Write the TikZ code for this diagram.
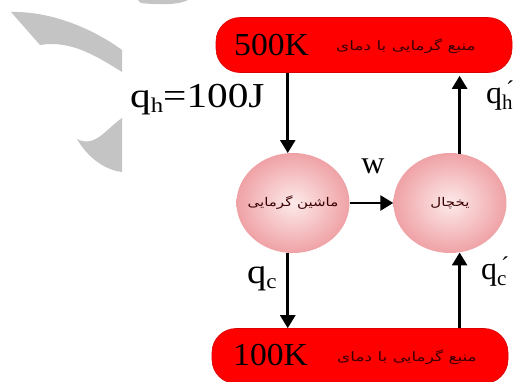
\documentclass[tikz,border=0pt]{standalone}
\usepackage{fontspec}
\setmainfont{Liberation Serif}
\newfontfamily\arabicfont[Script=Arabic]{DejaVu Sans}
\TeXXeTstate=1
\usetikzlibrary{shapes.geometric,arrows.meta,calc}
\definecolor{boxred}{HTML}{FF0000}
\definecolor{pkin}{HTML}{FDEAEA}
\definecolor{pkout}{HTML}{EFA2A6}
\definecolor{wgrey}{HTML}{C4C4C4}
\definecolor{fatext}{HTML}{3A0000}
\newcommand{\subh}[1]{\raisebox{-5pt}{\fontsize{21}{22}\selectfont #1}}
\newcommand{\primesub}[1]{\rlap{\fontsize{24}{24}\selectfont\raisebox{6pt}{\,´}}\raisebox{-6pt}{\fontsize{21}{22}\selectfont #1}}
\newcommand{\wide}[2]{\scalebox{#1}[1]{#2}}
\newcommand{\fatxt}[1]{\scalebox{1.3}[1]{\arabicfont\fontsize{13}{15}\selectfont\beginR #1\endR}}
\newcommand{\fasmall}[1]{\makebox[0pt]{\scalebox{1.25}[1]{\arabicfont\fontsize{12}{14}\selectfont\beginR #1\endR}}}
\begin{document}
\begin{tikzpicture}[x=1pt,y=-1pt,
  reservoir/.style={draw=red!85!black, line width=0.6pt, fill=boxred,
    rounded corners=24pt, minimum width=296pt, minimum height=55pt, inner sep=0pt},
  device/.style={ellipse, shading=radial, inner color=pkin, outer color=pkout,
    minimum width=113pt, minimum height=100pt, inner sep=0pt, text=fatext},
  flow/.style={line width=2.6pt, -{Triangle[width=15pt,length=13pt]}},
  big/.style={font=\fontsize{32}{36}\selectfont, inner sep=0pt},
  bigger/.style={font=\fontsize{35}{38}\selectfont, inner sep=0pt},
  fa/.style={text=fatext, inner sep=0pt}]
\useasboundingbox (0,0) rectangle (520,381);
\clip (0,0) rectangle (520,381);
% watermark shapes
\fill[wgrey] (11,12) .. controls (50,11) and (92,28) .. (122,50)
  -- (122,72) .. controls (95,55) and (70,40) .. (40,45) -- cycle;
\fill[wgrey] (122,118) .. controls (105,130) and (95,148) .. (77,139)
  .. controls (88,158) and (105,170) .. (122,172) -- cycle;
\fill[wgrey] (138,0) -- (141,3) .. controls (160,5) and (178,5) .. (188,0) -- cycle;
% reservoirs
\node[reservoir] (hot) at (364,45) {};
\node[reservoir] (cold) at (360,356) {};
\node[big, anchor=west] (t500) at (234,45) {\wide{1.05}{500K}};
\node[fa] (fahot) at (406,46) {\fatxt{منبع گرمایی با دمای}};
\node[big, anchor=west] (t100) at (233,355) {\wide{1.05}{100K}};
\node[fa] (facold) at (407,357) {\fatxt{منبع گرمایی با دمای}};
% devices
\node[device] (lc) at (293,203) {\fasmall{ماشین گرمایی}};
\node[device] (rc) at (450,203) {\fasmall{یخچال}};
% flows
\draw[flow] (hot.south -| lc.96) -- (lc.96);
\draw[flow] (lc.264) -- (cold.north -| lc.264);
\draw[flow] (rc.79) -- ($(hot.south -| rc.79)+(0,3)$);
\draw[flow] (cold.north -| rc.281) -- (rc.281);
\draw[flow] (lc.east) -- (rc.west);
% labels
\node[bigger, anchor=base west] (qh) at (130,107) {\wide{1.18}{q\subh{h}=100J}};
\node[big, anchor=base] (w) at (373,173) {w};
\node[bigger, anchor=base west] (qc) at (247,283) {\wide{1.1}{q\subh{c}}};
\node[big, anchor=base west] (qhp) at (486,103) {q\primesub{h}};
\node[big, anchor=base west] (qcp) at (481,279) {q\primesub{c}};
\end{tikzpicture}
\end{document}
